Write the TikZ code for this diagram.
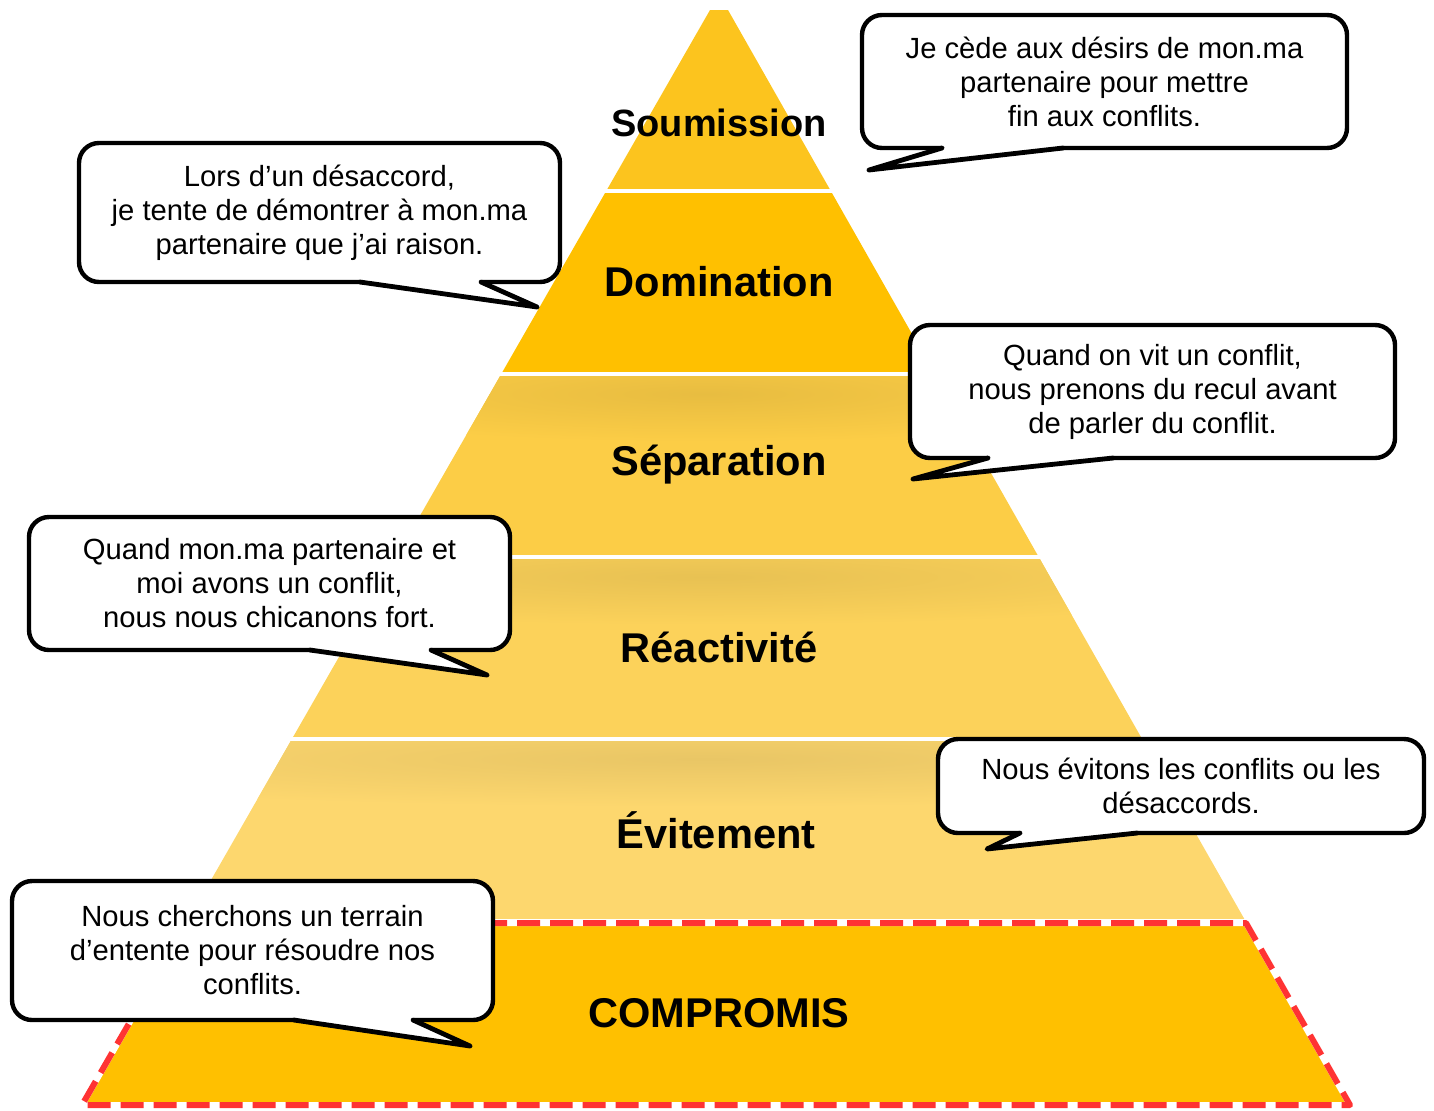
\documentclass[tikz,border=0pt]{standalone}
\usepackage{fontspec}
\setmainfont{Liberation Sans}
\definecolor{gold}{HTML}{FFC000}
\definecolor{soumis}{HTML}{FCC41E}
\definecolor{separ}{HTML}{FCCD46}
\definecolor{react}{HTML}{FCD25A}
\definecolor{evite}{HTML}{FDD76E}
\definecolor{dashred}{HTML}{FF3333}

\begin{document}
\begin{tikzpicture}
[x=0.5pt,y=-0.5pt,
 level/.style={inner sep=0pt,font=\bfseries\fontsize{20.8}{24}\selectfont},
 bubble/.style={draw=black,fill=white,line width=2.2pt,rounded corners=10pt,align=center,inner sep=0pt,font=\fontsize{14.6}{17}\selectfont},
 tail/.style={draw=black,line width=2.4pt,line join=round,line cap=round},
 border/.style={line width=3pt,line join=round}]
\useasboundingbox (0,0) rectangle (1434,1110);
% pyramid
\coordinate (TL) at (710,10);
\coordinate (TR) at (728,10);
\coordinate (BR) at (1350,1105);
\coordinate (BL) at (82,1105);
\begin{scope}
\clip (TL) -- (TR) -- (BR) -- (BL) -- cycle;
\foreach \ytop/\ybot/\col in {10/189/soumis,193/372/gold,376/555/separ,559/737/react,741/919/evite,924/1105/gold}
  \fill[\col] (0,\ytop) rectangle (1434,\ybot);
% soft shadows under the gaps
\foreach \ytop/\ybot/\col/\rx in {376/555/separ/230,559/737/react/310,741/919/evite/410}
  {\begin{scope}
   \clip (0,\ytop) rectangle (1434,\ybot);
   \shade[inner color=\col!92!black,outer color=\col] (705,\ytop+18) ellipse (\rx pt and 24pt);
   \end{scope}}
\end{scope}
\coordinate (CL) at (187,923);
\coordinate (CR) at (1246,923);
\draw[white,border] (CL) -- (CR) -- (BR) -- (BL) -- cycle;
\draw[dashred,border,dash pattern=on 11.5pt off 5pt] (CL) -- (CR) -- (BR) -- (BL) -- cycle;
% level names
\node[level,font=\bfseries\fontsize{19}{22}\selectfont] (soum) at (719,123) {Soumission};
\node[level] (domi) at (719,282) {Domination};
\node[level] (sepa) at (719,465) {Séparation};
\node[level] (reac) at (719,647) {Réactivité};
\node[level] (evit) at (716,830) {Évitement};
\node[level] (comp) at (719,1013) {COMPROMIS};
% callouts
\node[bubble,minimum width=242.5pt,minimum height=66.5pt] (c1) at (1104.5,81.5)
  {Je cède aux désirs de mon.ma\\partenaire pour mettre\\fin aux conflits.};
\node[bubble,minimum width=240.5pt,minimum height=69.5pt] (c2) at (319.5,212.5)
  {Lors d’un désaccord,\\je tente de démontrer à mon.ma\\partenaire que j’ai raison.};
\node[bubble,minimum width=242.5pt,minimum height=66.5pt] (c3) at (1152.5,391.5)
  {Quand on vit un conflit,\\nous prenons du recul avant\\de parler du conflit.};
\node[bubble,minimum width=240.5pt,minimum height=66.5pt] (c4) at (269.5,583.5)
  {Quand mon.ma partenaire et\\moi avons un conflit,\\nous nous chicanons fort.};
\node[bubble,minimum width=243pt,minimum height=47pt] (c5) at (1181,786)
  {Nous évitons les conflits ou les\\désaccords.};
\node[bubble,minimum width=240.5pt,minimum height=69.5pt] (c6) at (252.5,950.5)
  {Nous cherchons un terrain\\d’entente pour résoudre nos\\conflits.};
% callout tails
\foreach \ax/\ay/\tx/\ty/\bx/\by in {942/148/869/170/1063/148,360/282/537/307/481/282,
    988/458/913/479/1113/458,310/650/487/675/431/650,1020/833/987/849/1137/833,294/1020/470/1046/413/1020}
  {\fill[white] (\ax,\ay) -- (\tx,\ty) -- (\bx,\by) -- (\bx,\by-6) -- (\ax,\ay-6) -- cycle;
   \draw[tail] (\ax,\ay) -- (\tx,\ty) -- (\bx,\by);}
\end{tikzpicture}
\end{document}
